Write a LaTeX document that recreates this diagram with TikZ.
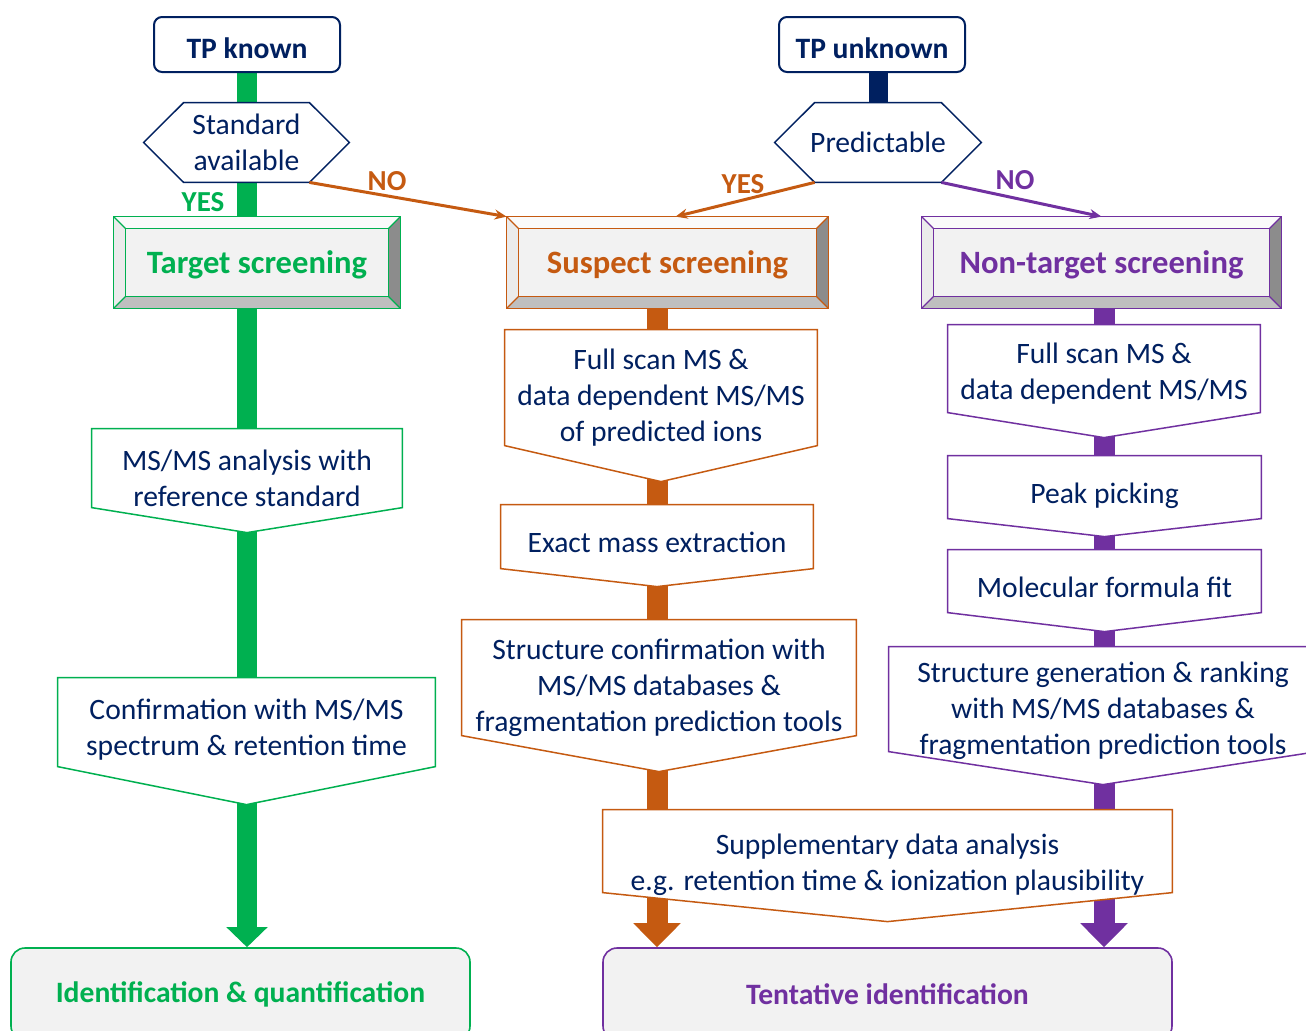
\documentclass[tikz,border=0pt]{standalone}
\usepackage{fontspec}
\setmainfont{Carlito}
\usetikzlibrary{calc,arrows.meta,positioning}

\definecolor{tgreen}{HTML}{00B050}
\definecolor{sorange}{HTML}{C55A11}
\definecolor{npurple}{HTML}{7030A0}
\definecolor{navy}{HTML}{002060}
\definecolor{face}{HTML}{F2F2F2}

\pgfdeclarelayer{bars}
\pgfdeclarelayer{boxes}
\pgfsetlayers{bars,boxes,main}

\tikzset{
   stepnode/.style={rectangle, inner sep=0pt, align=center, text=navy, font=\fontsize{14.8}{18}\selectfont},
   tpnode/.style={rectangle, rounded corners=4pt, draw=navy, line width=1pt, fill=white, minimum width=93pt, minimum height=27.5pt, text height=14pt, text depth=0pt, text=navy, font=\fontsize{14.8}{18}\selectfont\bfseries},
   bevelnode/.style={rectangle, inner sep=0pt, minimum height=45.5pt, text height=14.7pt, text depth=3.4pt, font=\fontsize{16.3}{19}\selectfont\bfseries},
   endnode/.style={rectangle, rounded corners=7pt, fill=face, line width=0.8pt, minimum height=46pt, font=\fontsize{14.8}{18}\selectfont\bfseries},
   answer/.style={font=\fontsize{14.5}{17}\selectfont\bfseries},
   flowbar/.style={line width=10.5pt},
   thinarrow/.style={line width=1.5pt, -{Stealth[length=6pt,width=5pt]}}
}

\begin{document}
\begin{tikzpicture}[x=0.5pt, y=-0.5pt]
   \useasboundingbox (0,0) rectangle (1306,1030);

   \node[tpnode] (tpk) at (247,44.5) {TP known};
   \node[tpnode] (tpu) at (872,44.5) {TP unknown};
   \node[stepnode, minimum width=102.5pt, minimum height=39.5pt] (sa) at (246.5,142.5) {Standard\\available};
   \node[stepnode, minimum width=103pt, minimum height=39.5pt] (pred) at (878,142.5) {Predictable};

   \node[answer, text=tgreen] (yes1) at (203,202) {YES};
   \node[answer, text=sorange] (no1) at (387,181) {NO};
   \node[answer, text=sorange] (yes2) at (743,184) {YES};
   \node[answer, text=npurple] (no2) at (1015,180) {NO};

   \node[bevelnode, minimum width=143pt, text=tgreen] (tsc) at (257,262.5) {Target screening};
   \node[bevelnode, minimum width=160.5pt, text=sorange] (sus) at (667.5,262.5) {Suspect screening};
   \node[bevelnode, minimum width=179.5pt, text=npurple] (nts) at (1101.5,262.5) {Non-target screening};

   %target column
   \node[stepnode, minimum width=155pt, minimum height=49pt] (ms2) at (247,478) {MS/MS analysis with\\reference standard};
   \node[stepnode, minimum width=188.5pt, minimum height=52pt] (conf) at (246.5,730) {Confirmation with MS/MS\\spectrum \& retention time};
   %suspect column
   \node[stepnode, minimum width=156pt, minimum height=67.5pt] (fso) at (661,397.5) {Full scan MS \&\\data dependent MS/MS\\of predicted ions};
   \node[stepnode, minimum width=156pt, minimum height=37pt] (ema) at (657,542) {Exact mass extraction};
   \node[stepnode, minimum width=197pt, minimum height=68pt] (scw) at (659,688) {Structure confirmation with\\MS/MS databases \&\\fragmentation prediction tools};
   %non-target column
   \node[stepnode, minimum width=156pt, minimum height=49pt] (fsp) at (1104,374) {Full scan MS \&\\data dependent MS/MS};
   \node[stepnode, minimum width=156.5pt, minimum height=40pt] (pkp) at (1104.5,496) {Peak picking};
   \node[stepnode, minimum width=156.5pt, minimum height=37pt] (mff) at (1104.5,587) {Molecular formula fit};
   \node[stepnode, minimum width=214pt, minimum height=64pt] (sgr) at (1103,711) {Structure generation \& ranking\\with MS/MS databases \&\\fragmentation prediction tools};

   \node[stepnode, minimum width=284.5pt, minimum height=55pt] (sda) at (887.5,865) {Supplementary data analysis\\e.g. retention time \& ionization plausibility};

   \node[endnode, draw=tgreen, text=tgreen, minimum width=229.5pt] (idq) at (240.5,994) {Identification \& quantification};
   \node[endnode, draw=npurple, text=npurple, minimum width=284.5pt] (tent) at (887.5,994) {Tentative identification};

   \begin{pgfonlayer}{boxes}
   %decisions
   \draw[navy, line width=0.75pt, fill=white] ($(sa.north west)+(40,0)$) -- ($(sa.north east)+(-40,0)$) -- (sa.east)
      -- ($(sa.south east)+(-40,0)$) coordinate (sa-se) -- ($(sa.south west)+(40,0)$) -- (sa.west) -- cycle;
   \draw[navy, line width=0.75pt, fill=white] ($(pred.north west)+(40,0)$) -- ($(pred.north east)+(-40,0)$) -- (pred.east)
      -- ($(pred.south east)+(-40,0)$) coordinate (pred-se) -- ($(pred.south west)+(40,0)$) coordinate (pred-sw) -- (pred.west) -- cycle;
   %bevelled headers
   \foreach \bx/\bc in {tsc/tgreen, sus/sorange, nts/npurple} {
      \fill[face] (\bx.north west) rectangle (\bx.south east);
      \fill[white!60!face] (\bx.north west) -- (\bx.north east) -- ($(\bx.north east)+(-12,12)$) -- ($(\bx.north west)+(12,12)$) -- cycle;
      \fill[black!8] (\bx.north west) -- ($(\bx.north west)+(12,12)$) -- ($(\bx.south west)+(12,-12)$) -- (\bx.south west) -- cycle;
      \fill[black!45] (\bx.north east) -- (\bx.south east) -- ($(\bx.south east)+(-12,-12)$) -- ($(\bx.north east)+(-12,12)$) -- cycle;
      \fill[black!25] (\bx.south west) -- (\bx.south east) -- ($(\bx.south east)+(-12,-12)$) -- ($(\bx.south west)+(12,-12)$) -- cycle;
      \draw[\bc, line width=0.75pt] (\bx.north west) rectangle (\bx.south east);
      \draw[\bc, line width=0.75pt] ($(\bx.north west)+(12,12)$) rectangle ($(\bx.south east)+(-12,-12)$);
      \draw[\bc, line width=0.6pt] (\bx.north west) -- ++(12,12) (\bx.north east) -- ++(-12,12)
         (\bx.south west) -- ++(12,-12) (\bx.south east) -- ++(-12,-12);
   }
   %step boxes
   \foreach \bx/\bc/\bh/\bd in {ms2/tgreen/79/25, conf/tgreen/89/38, fso/sorange/116/36, ema/sorange/64/18,
         scw/sorange/116/36, fsp/npurple/88/25, pkp/npurple/63/18, mff/npurple/63/19,
         sgr/npurple/105/33, sda/sorange/83/29}
      \draw[\bc, line width=0.75pt, fill=white] (\bx.north west) -- (\bx.north east) -- ++(0,\bh)
         -- ($(\bx.north)+(0,\bh+\bd)$) -- ($(\bx.north west)+(0,\bh)$) -- cycle;
   \end{pgfonlayer}

   \begin{pgfonlayer}{bars}
   \draw[flowbar, tgreen, line width=10pt, -{Triangle[length=10pt,width=20pt]}] (tpk.south) -- (tpk.south |- idq.north);
   \draw[flowbar, navy, line width=9.5pt] (pred.north |- tpu.south) -- (pred.north);
   \draw[flowbar, sorange, -{Triangle[length=12pt,width=23pt]}] (ema.north |- sus.south) -- (ema.north |- tent.north);
   \draw[flowbar, npurple, -{Triangle[length=12pt,width=23pt]}] (fsp.north |- nts.south) -- (fsp.north |- tent.north);
   \end{pgfonlayer}

   \draw[thinarrow, sorange] (sa-se) -- (sus.north west);
   \draw[thinarrow, sorange] (pred-sw) -- ($(sus.north)+(8,0)$);
   \draw[thinarrow, npurple] (pred-se) -- (nts.north);
\end{tikzpicture}
\end{document}
